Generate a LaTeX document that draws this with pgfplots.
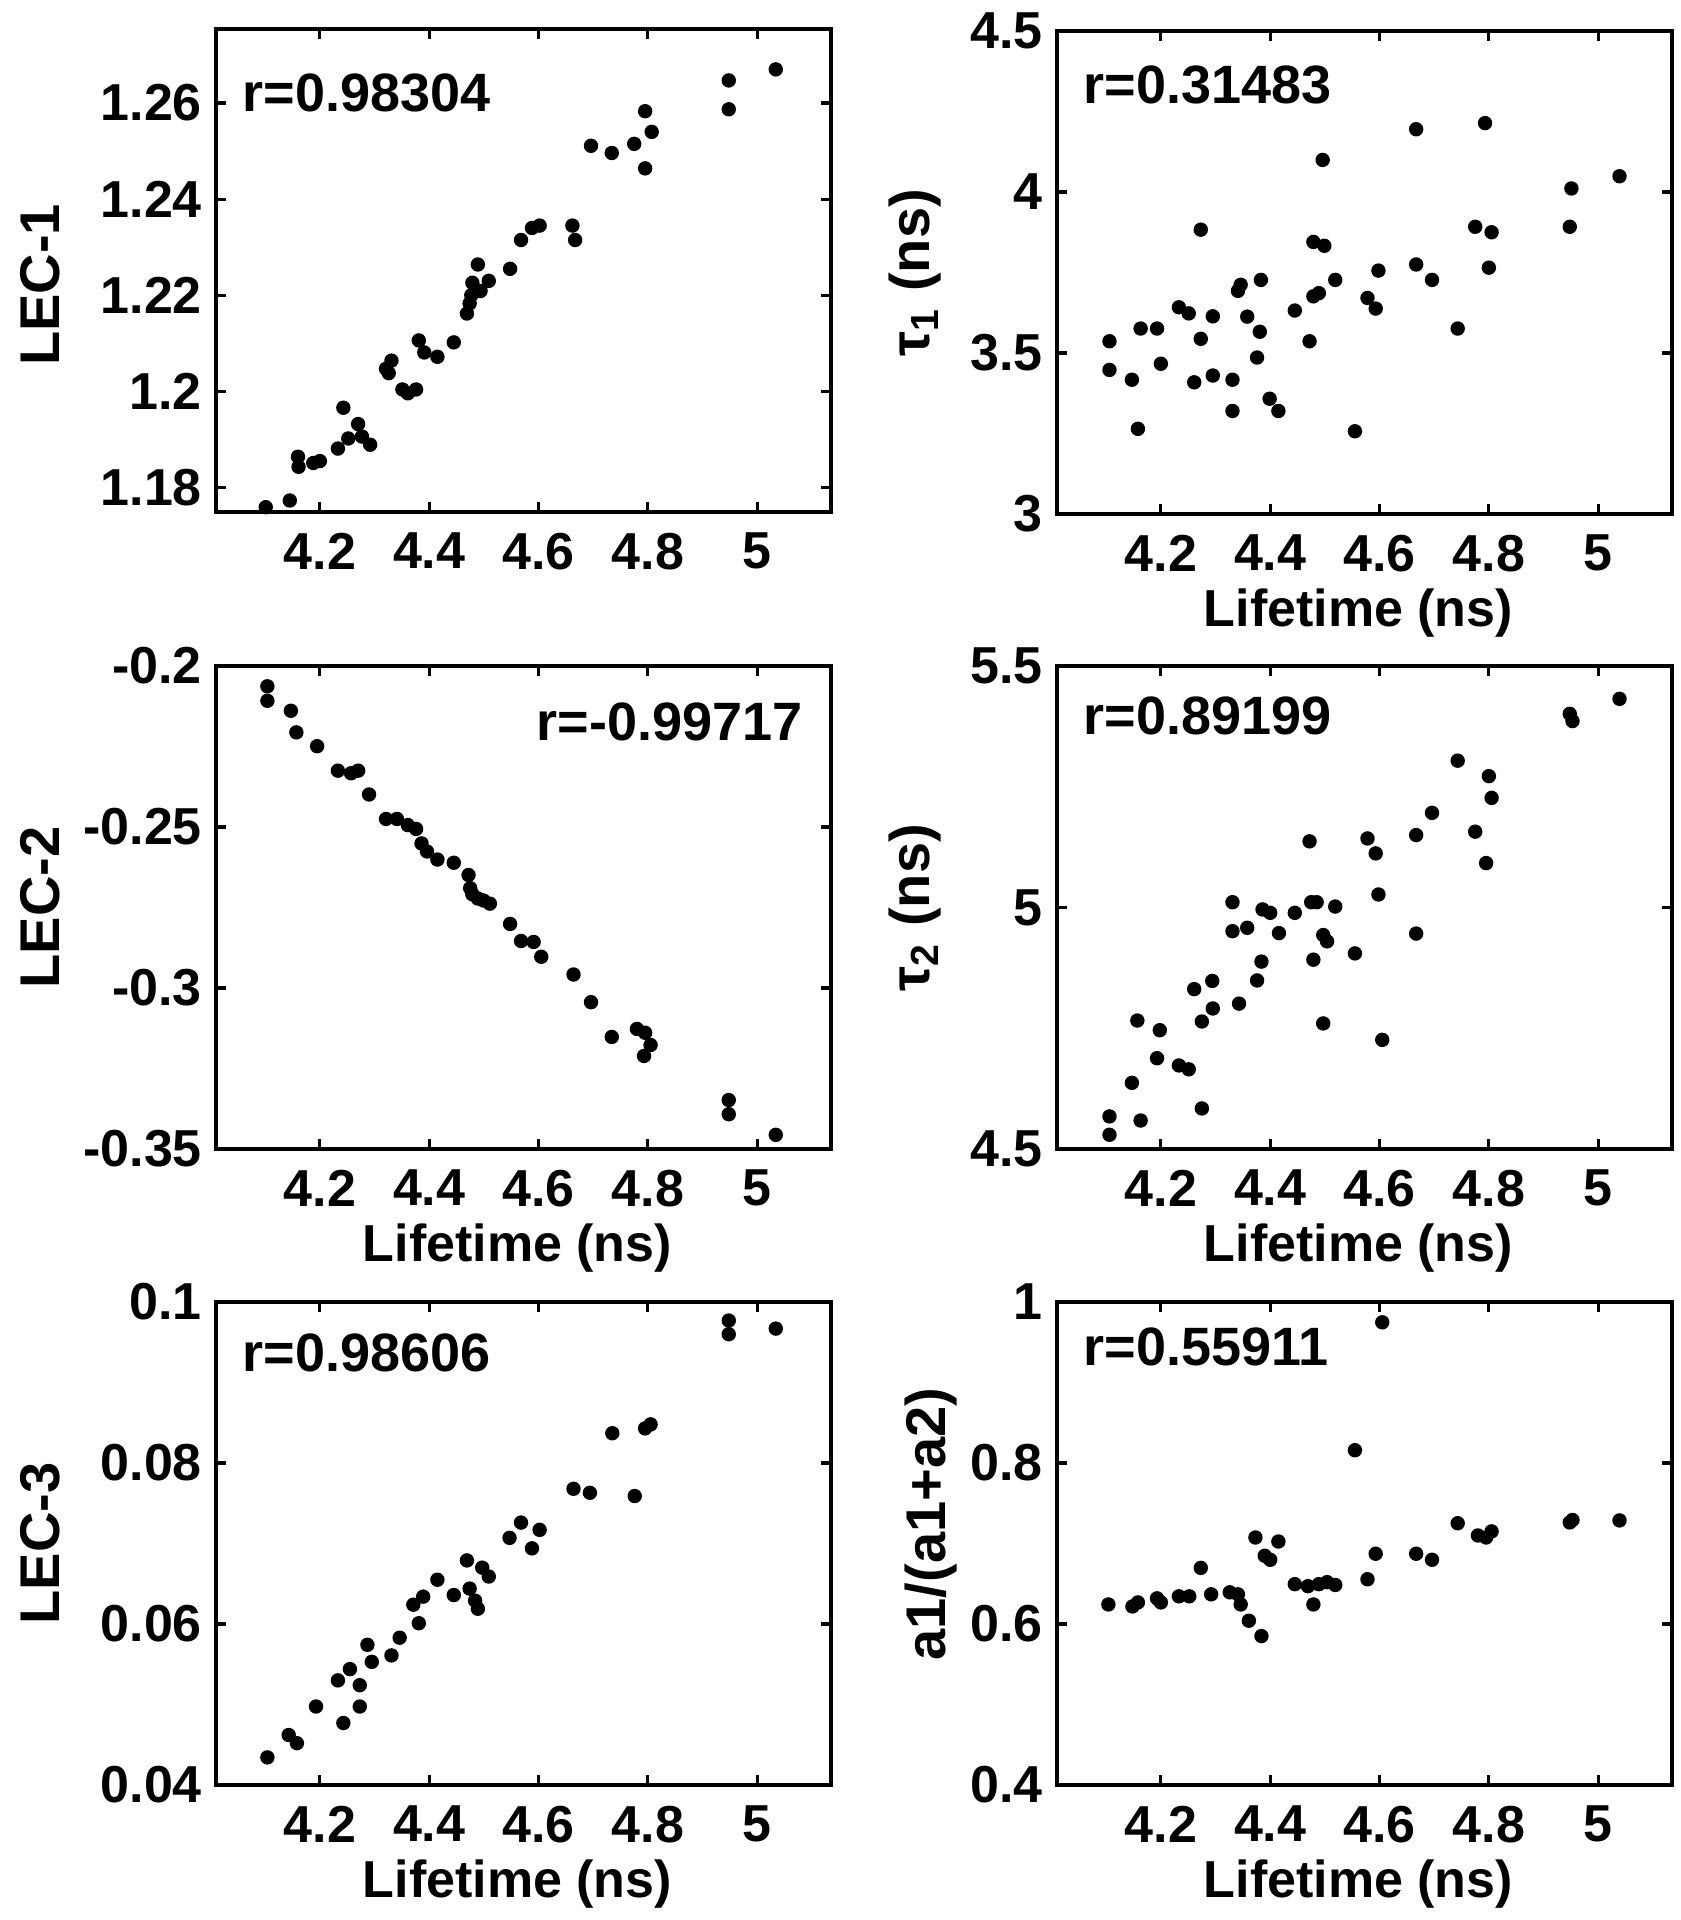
\documentclass[border=0pt]{standalone}
\usepackage{fontspec}
\setmainfont{Liberation Sans}
\usepackage{pgfplots}
\pgfplotsset{compat=1.18}
\newcommand{\tf}{\fontsize{13}{15}\selectfont\bfseries}
\newcommand{\lf}{\fontsize{14}{16}\selectfont\bfseries}
\newcommand{\rf}{\fontsize{13.5}{15}\selectfont\bfseries}
\pgfplotsset{
 panel/.style={
  scale only axis, width=153.75pt, height=120.75pt,
  anchor=north west, clip=false,
  xmin=4.01, xmax=5.135,
  xtick={4.2,4.4,4.6,4.8,5}, xticklabels={4.2,4.4,4.6,4.8,5},
  tick align=inside, tick pos=both,
  major tick length=2.5pt,
  every tick/.style={black, line width=0.8pt},
  axis line style={black, line width=1pt},
  ticklabel style={font=\tf},
  xticklabel style={yshift=-1.7pt},
  xlabel style={font=\tf, at={(axis description cs:0.49,0)}, anchor=north, inner sep=0pt, yshift=-18.5pt},
 },
 yl/.style 2 args={ylabel style={font=\lf, at={([xshift=-#1]axis description cs:0,#2)}, anchor=center, inner sep=0pt}},
 mk/.style={only marks, mark=*, mark size=1.6pt, black},
}
\begin{document}
\begin{tikzpicture}
\path[use as bounding box] (0,0) rectangle (420.25pt,-480pt);

% ---------- top left ----------
\begin{axis}[panel, at={(54pt,-7.25pt)},
  ymin=1.1749, ymax=1.2754,
  ytick={1.18,1.2,1.22,1.24,1.26}, yticklabels={1.18,1.2,1.22,1.24,1.26},
  ylabel={LEC-1}, yl={44pt}{0.47}]
\addplot[mk] coordinates {
(4.101,1.1759)(4.145,1.1773)(4.160,1.1864)(4.161,1.1843)(4.188,1.1851)(4.200,1.1855)
(4.233,1.1881)(4.243,1.1966)(4.252,1.1902)(4.270,1.1932)(4.277,1.1906)(4.292,1.1889)
(4.321,1.2047)(4.331,1.2064)(4.326,1.2038)(4.351,1.2004)(4.361,1.1996)(4.376,1.2004)
(4.381,1.2106)(4.391,1.2081)(4.415,1.2072)(4.445,1.2102)(4.469,1.2162)(4.474,1.2183)
(4.477,1.2200)(4.479,1.2226)(4.489,1.2264)(4.494,1.2209)(4.509,1.2230)(4.548,1.2255)
(4.568,1.2315)(4.588,1.2340)(4.602,1.2345)(4.662,1.2345)(4.667,1.2315)(4.696,1.2511)
(4.734,1.2496)(4.775,1.2515)(4.795,1.2583)(4.807,1.2540)(4.795,1.2464)(4.948,1.2647)
(4.948,1.2587)(5.034,1.2670)};
\node[font=\rf, anchor=west, inner sep=0pt] at (rel axis cs:0.042,0.868) {r=0.98304};
\end{axis}

% ---------- top right ----------
\begin{axis}[panel, at={(264.25pt,-7.75pt)},
  ymin=3, ymax=4.5,
  ytick={3,3.5,4,4.5}, yticklabels={3,3.5,4,4.5},
  xlabel={Lifetime (ns)},
  ylabel={τ\textsubscript{1} (ns)}, yl={35.5pt}{0.5}]
\addplot[mk] coordinates {
(4.106,3.5365)(4.106,3.4475)(4.147,3.417)(4.158,3.2645)(4.163,3.576)(4.193,3.576)
(4.200,3.4666)(4.233,3.642)(4.251,3.623)(4.261,3.409)(4.273,3.883)(4.273,3.544)
(4.295,3.614)(4.295,3.430)(4.331,3.320)(4.331,3.417)(4.341,3.693)(4.346,3.712)
(4.358,3.613)(4.376,3.486)(4.381,3.566)(4.383,3.727)(4.399,3.358)(4.415,3.320)
(4.445,3.632)(4.472,3.5365)(4.479,3.845)(4.479,3.676)(4.489,3.686)(4.499,3.833)
(4.496,4.0996)(4.519,3.727)(4.555,3.257)(4.578,3.671)(4.593,3.638)(4.598,3.756)
(4.667,4.195)(4.667,3.775)(4.696,3.727)(4.743,3.576)(4.775,3.892)(4.793,4.214)
(4.805,3.875)(4.800,3.765)(4.948,3.892)(4.951,4.011)(5.039,4.049)};
\node[font=\rf, anchor=west, inner sep=0pt] at (rel axis cs:0.042,0.888) {r=0.31483};
\end{axis}

% ---------- middle left ----------
\begin{axis}[panel, at={(54pt,-166.5pt)},
  ymin=-0.35, ymax=-0.2,
  ytick={-0.35,-0.3,-0.25,-0.2}, yticklabels={-0.35,-0.3,-0.25,-0.2},
  xlabel={Lifetime (ns)},
  ylabel={LEC-2}, yl={44pt}{0.5}]
\addplot[mk] coordinates {
(4.104,-0.2063)(4.104,-0.2108)(4.147,-0.2139)(4.157,-0.2206)(4.195,-0.2249)(4.233,-0.2325)
(4.257,-0.2333)(4.270,-0.2325)(4.290,-0.2399)(4.321,-0.2475)(4.341,-0.2475)(4.361,-0.2494)
(4.376,-0.2506)(4.386,-0.2551)(4.396,-0.2576)(4.415,-0.2601)(4.445,-0.2611)(4.472,-0.2649)
(4.475,-0.2690)(4.479,-0.2709)(4.489,-0.2722)(4.499,-0.2728)(4.511,-0.2738)(4.548,-0.2801)
(4.568,-0.2854)(4.591,-0.2857)(4.605,-0.2903)(4.664,-0.2958)(4.696,-0.3044)(4.734,-0.3152)
(4.780,-0.3127)(4.795,-0.3139)(4.805,-0.3177)(4.793,-0.3211)(4.948,-0.3348)(4.948,-0.3392)
(5.034,-0.3456)};
\node[font=\rf, anchor=east, inner sep=0pt] at (rel axis cs:0.955,0.884) {r=-0.99717};
\end{axis}

% ---------- middle right ----------
\begin{axis}[panel, at={(264.25pt,-166.5pt)},
  ymin=4.5, ymax=5.5,
  ytick={4.5,5,5.5}, yticklabels={4.5,5,5.5},
  xlabel={Lifetime (ns)},
  ylabel={τ\textsubscript{2} (ns)}, yl={35.5pt}{0.5}]
\addplot[mk] coordinates {
(4.106,4.5675)(4.106,4.5295)(4.147,4.637)(4.163,4.559)(4.157,4.766)(4.198,4.746)
(4.193,4.688)(4.233,4.673)(4.251,4.665)(4.261,4.831)(4.275,4.764)(4.275,4.584)
(4.294,4.848)(4.295,4.791)(4.331,5.011)(4.331,4.951)(4.343,4.801)(4.358,4.958)
(4.376,4.849)(4.384,4.888)(4.386,4.996)(4.400,4.989)(4.416,4.947)(4.445,4.989)
(4.472,5.137)(4.475,5.011)(4.485,5.011)(4.479,4.892)(4.497,4.943)(4.504,4.930)
(4.497,4.760)(4.519,5.002)(4.555,4.905)(4.578,5.143)(4.593,5.112)(4.598,5.027)
(4.605,4.726)(4.667,5.150)(4.667,4.946)(4.696,5.196)(4.743,5.304)(4.775,5.157)
(4.800,5.272)(4.805,5.227)(4.795,5.092)(4.948,5.401)(4.953,5.386)(5.039,5.432)};
\node[font=\rf, anchor=west, inner sep=0pt] at (rel axis cs:0.042,0.897) {r=0.89199};
\end{axis}

% ---------- bottom left ----------
\begin{axis}[panel, at={(54pt,-325.5pt)},
  ymin=0.04, ymax=0.1,
  ytick={0.04,0.06,0.08,0.1}, yticklabels={0.04,0.06,0.08,0.1},
  xlabel={Lifetime (ns)},
  ylabel={LEC-3}, yl={44pt}{0.5}]
\addplot[mk] coordinates {
(4.104,0.04343)(4.143,0.04621)(4.158,0.0452)(4.193,0.04975)(4.233,0.0530)(4.255,0.0544)
(4.243,0.0477)(4.273,0.0524)(4.273,0.04975)(4.287,0.05742)(4.295,0.0553)(4.331,0.0561)
(4.346,0.0583)(4.381,0.0601)(4.371,0.0624)(4.389,0.0634)(4.415,0.0655)(4.445,0.0636)
(4.469,0.0679)(4.474,0.0644)(4.484,0.0629)(4.489,0.0619)(4.497,0.0670)(4.509,0.0659)
(4.547,0.0707)(4.568,0.0726)(4.588,0.0694)(4.602,0.0717)(4.664,0.0768)(4.694,0.0763)
(4.735,0.0837)(4.776,0.0759)(4.795,0.0843)(4.805,0.0848)(4.948,0.0977)(4.948,0.0960)
(5.034,0.0967)};
\node[font=\rf, anchor=west, inner sep=0pt] at (rel axis cs:0.042,0.895) {r=0.98606};
\end{axis}

% ---------- bottom right ----------
\begin{axis}[panel, at={(264.25pt,-325.5pt)},
  ymin=0.4, ymax=1,
  ytick={0.4,0.6,0.8,1}, yticklabels={0.4,0.6,0.8,1},
  xlabel={Lifetime (ns)},
  ylabel={a1/(a1+a2)}, yl={31.5pt}{0.54}]
\addplot[mk] coordinates {
(4.104,0.6243)(4.148,0.6218)(4.158,0.6268)(4.193,0.6319)(4.200,0.6268)(4.233,0.6344)
(4.252,0.6344)(4.273,0.6697)(4.292,0.6369)(4.326,0.6394)(4.341,0.6369)(4.346,0.6243)
(4.361,0.6041)(4.384,0.5850)(4.373,0.7075)(4.400,0.6798)(4.390,0.6848)(4.415,0.7025)
(4.445,0.6495)(4.469,0.6470)(4.479,0.6243)(4.489,0.6495)(4.504,0.6520)(4.519,0.6485)
(4.555,0.8159)(4.578,0.6556)(4.593,0.6873)(4.605,0.9748)(4.667,0.6873)(4.696,0.6798)
(4.743,0.7252)(4.780,0.7100)(4.795,0.7075)(4.805,0.7151)(4.948,0.7262)(4.953,0.7292)
(5.039,0.7287)};
\node[font=\rf, anchor=west, inner sep=0pt] at (rel axis cs:0.042,0.907) {r=0.55911};
\end{axis}
\end{tikzpicture}
\end{document}
